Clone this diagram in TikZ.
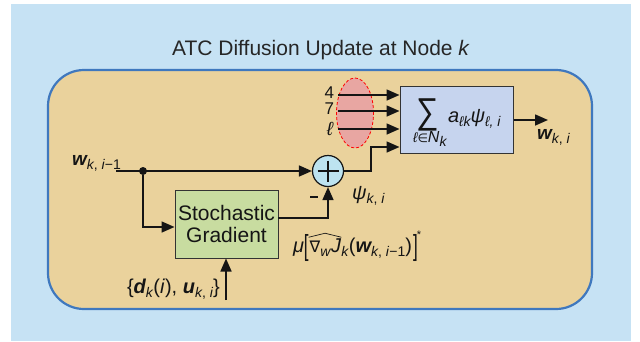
\documentclass[tikz,border=0pt]{standalone}
\usepackage{fontspec}
\usepackage{graphicx}
\setmainfont{Liberation Sans}
\newfontfamily\dvfont{DejaVu Sans}
\usetikzlibrary{arrows.meta,shapes.geometric,calc}
\newcommand\fsz[1]{\fontsize{#1}{#1}\selectfont}
\newcommand\bvec[1]{{\bfseries\itshape #1}}
\newcommand\lowsub[1]{\raisebox{-4pt}{\fsz{14}#1}}
\newcommand\bigbr[1]{\raisebox{-3pt}{\scalebox{0.85}[1.45]{\fsz{20}#1}}}
\definecolor{bgblue}{HTML}{C6E2F4}
\definecolor{tan}{HTML}{EAD29C}
\definecolor{tanborder}{HTML}{3F78BE}
\definecolor{pinkfill}{HTML}{E8A6A2}
\definecolor{sumfill}{HTML}{C6D4EE}
\definecolor{plusfill}{HTML}{BDE3F0}
\definecolor{sgfill}{HTML}{C8DCA0}
\definecolor{ink}{HTML}{151515}
\begin{document}
\begin{tikzpicture}[x=1pt,y=-1pt,
  lbl/.style={inner sep=0pt,outer sep=0pt,anchor=base west,font=\fsz{20},text=ink},
  arr/.style={draw=ink,line width=1.6pt,-{Triangle[length=13pt,width=11pt]}},
  wire/.style={draw=ink,line width=1.6pt},
  blockbox/.style={draw=black!80,line width=1pt,inner sep=0pt}]
\useasboundingbox (0,0) rectangle (640,341);
\fill[white] (0,0) rectangle (640,341);
\fill[bgblue] (11,4) rectangle (631,341);
\draw[fill=tan,draw=tanborder,line width=2.2pt,rounded corners=36pt] (48,70) rectangle (592,309);
\node[inner sep=0pt,anchor=base,font=\fsz{21},text=black!85] (title) at (321,55) {ATC Diffusion Update at Node \textit{k}};
% ellipse of neighbours
\node[ellipse,draw=red,dashed,dash pattern=on 3pt off 2pt,line width=0.8pt,fill=pinkfill,minimum width=37pt,minimum height=70pt,inner sep=0pt] (E) at (355,113) {};
% blocks
\node[blockbox,fill=sumfill,minimum width=113pt,minimum height=67pt] (S) at (456.5,119.5) {};
\node[blockbox,fill=sgfill,minimum width=103pt,minimum height=68pt,align=center,font=\fsz{21},text=ink] (G) at (226.5,224) {Stochastic\\[1pt]Gradient};
\node[circle,draw=ink,line width=1.2pt,fill=plusfill,minimum size=31pt,inner sep=0pt] (P) at (328,171) {};
\draw[ink,line width=1.4pt] ($(P)+(-10.5,0)$) -- ($(P)+(10.5,0)$);
\draw[ink,line width=1.4pt] ($(P)+(0,-10.5)$) -- ($(P)+(0,10.5)$);
% neighbour inputs
\coordinate (n4) at (338,95);
\coordinate (n7) at (338,111);
\coordinate (nl) at (338,129);
\draw[arr] (n4) -- (n4 -| S.west);
\draw[arr] (n7) -- (n7 -| S.west);
\draw[arr] (nl) -- (nl -| S.west);
\node[lbl,anchor=base east,font=\fsz{17}] (l4) at (334,98) {4};
\node[lbl,anchor=base east,font=\fsz{17}] (l7) at (334,114) {7};
\node[lbl,anchor=base east,font=\fsz{19}\itshape] (ll) at (333,135) {ℓ};
% psi path to sum box
\coordinate (t1) at (371,171);
\coordinate (t2) at (371,147);
\draw[arr] (P.east) -- (t1) -- (t2) -- (t2 -| S.west);
% main input
\coordinate (win) at (116,171);
\draw[arr] (win) -- (P.west);
\node[circle,fill=ink,minimum size=8pt,inner sep=0pt] (D) at (143,171) {};
\coordinate (b1) at (143,227);
\draw[arr] (D) -- (b1) -- (b1 -| G.west);
% gradient to summer
\coordinate (ge) at (278,218);
\draw[arr] (ge) -- (ge -| P.south) -- (P.south);
\node[inner sep=0pt,fill=ink,minimum width=8pt,minimum height=2.6pt] (minus) at (314,197) {};
% data input
\coordinate (inp) at (226,300);
\draw[arr] (inp) -- (inp |- G.south);
% output
\coordinate (outp) at (548,120);
\draw[arr] (S.east |- outp) -- (outp);
% labels
\node[lbl,font=\fsz{19}] (wl) at (72,165) {\bvec{w}\lowsub{\textit{k}, \textit{i}−1}};
\node[lbl,font=\fsz{19}] (wo) at (537,139) {\bvec{w}\lowsub{\textit{k}, \textit{i}}};
\node[lbl] (psl) at (352,199) {\textit{ψ}\lowsub{\textit{k}, \textit{i}}};
\node[lbl] (dl) at (127,293) {\{\bvec{d}\lowsub{\textit{k}}(\textit{i}), \bvec{u}\lowsub{\textit{k}, \textit{i}}\}};
% sum expression
\node[lbl] (sig) at (416,123) {\scalebox{1.05}[1.2]{\fsz{30}∑}};
\node[lbl] (sigsub) at (413,142) {\fsz{14}\itshape ℓ{\dvfont\upshape\fsz{12}∈}\fsz{16}N\lowsub{k}};
\node[lbl] (sumt) at (448,122) {\textit{a}\lowsub{\itshape ℓk}\textit{ψ}\lowsub{\itshape ℓ, i}};
% gradient expression
\node[lbl] (f1) at (293,252) {\textit{μ}};
\node[lbl] (f2) at (f1.base east) {\bigbr{[}};
\node[lbl] (f3) at (f2.base east) {\kern1pt{\dvfont\fsz{16}∇}\lowsub{\textit{w}}\textit{J}};
\node[lbl] (f4) at (f3.base east) {\lowsub{\textit{k}}(\bvec{w}\lowsub{\textit{k}, \textit{i}−1})};
\node[lbl] (f5) at (f4.base east) {\kern1pt\bigbr{]}\kern-1pt\raisebox{14pt}{\fsz{11}*}};
\draw[ink,line width=0.7pt] ([yshift=1pt]f3.north west) -- ([yshift=5pt]f3.north) -- ([yshift=1pt]f3.north east);
\end{tikzpicture}
\end{document}
